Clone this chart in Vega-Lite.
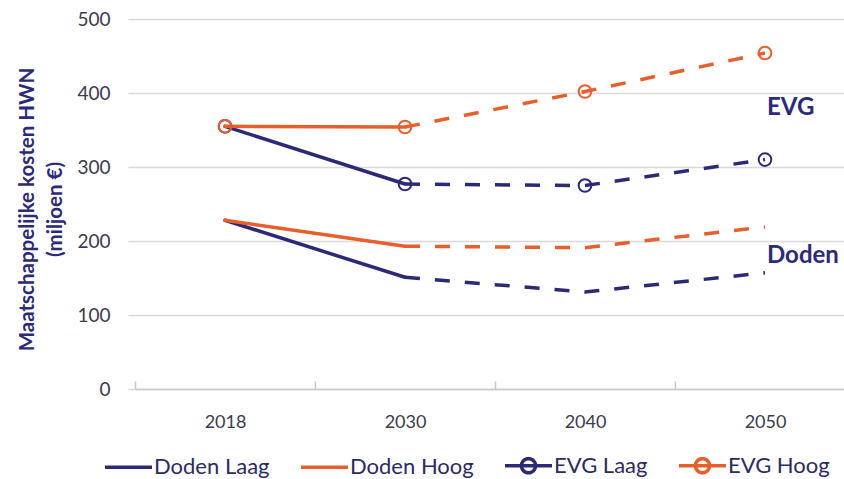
{
  "$schema": "https://vega.github.io/schema/vega-lite/v6.json",
  "width": 709,
  "height": 370,
  "autosize": {"type": "none"},
  "padding": {"left": 135, "top": 19, "right": 0, "bottom": 90},
  "background": "white",
  "config": {"font": "Lato", "view": {"stroke": null}},
  "data": {
    "values": [
      {"series": "Doden Laag", "year": "2018", "value": 228},
      {"series": "Doden Laag", "year": "2030", "value": 151},
      {"series": "Doden Laag", "year": "2040", "value": 131},
      {"series": "Doden Laag", "year": "2050", "value": 157},
      {"series": "Doden Hoog", "year": "2018", "value": 228},
      {"series": "Doden Hoog", "year": "2030", "value": 193},
      {"series": "Doden Hoog", "year": "2040", "value": 191},
      {"series": "Doden Hoog", "year": "2050", "value": 219},
      {"series": "EVG Laag", "year": "2018", "value": 355},
      {"series": "EVG Laag", "year": "2030", "value": 277},
      {"series": "EVG Laag", "year": "2040", "value": 275},
      {"series": "EVG Laag", "year": "2050", "value": 310},
      {"series": "EVG Hoog", "year": "2018", "value": 355},
      {"series": "EVG Hoog", "year": "2030", "value": 354},
      {"series": "EVG Hoog", "year": "2040", "value": 402},
      {"series": "EVG Hoog", "year": "2050", "value": 454}
    ]
  },
  "encoding": {
    "x": {
      "field": "year",
      "type": "ordinal",
      "bandPosition": 0.5,
      "scale": {"type": "band", "paddingInner": 0, "paddingOuter": 0, "range": [0, 720]},
      "axis": {
        "title": null,
        "labelAngle": 0,
        "labelFontSize": 18,
        "labelColor": "#3b3b4f",
        "labelPadding": 32,
        "tickBand": "extent",
        "tickSize": -8,
        "tickColor": "#c8c8c8",
        "tickWidth": 1.5,
        "domainColor": "#c8c8c8",
        "domainWidth": 1.5,
        "grid": false
      }
    },
    "y": {
      "field": "value",
      "type": "quantitative",
      "scale": {"domain": [0, 500], "nice": false},
      "axis": {
        "title": ["Maatschappelijke kosten HWN", "(miljoen €)"],
        "titleFontSize": 20.5,
        "titleFontWeight": "bold",
        "titleColor": "#2c2a76",
        "titleLineHeight": 28,
        "titleX": -98,
        "titleY": 190,
        "titleAngle": -90,
        "values": [0, 100, 200, 300, 400, 500],
        "labelFontSize": 19,
        "labelColor": "#3b3b4f",
        "labelPadding": 18,
        "domain": false,
        "ticks": true,
        "tickSize": 7,
        "tickColor": "#d9d9d9",
        "tickWidth": 1.5,
        "gridColor": "#d9d9d9",
        "gridWidth": 1.5
      }
    },
    "color": {
      "field": "series",
      "type": "nominal",
      "scale": {
        "domain": ["Doden Laag", "Doden Hoog", "EVG Laag", "EVG Hoog"],
        "range": ["#2c2a76", "#e5602d", "#2c2a76", "#e5602d"]
      },
      "legend": {
        "orient": "none",
        "legendX": -32,
        "legendY": 421,
        "direction": "horizontal",
        "columns": 4,
        "title": null,
        "labelFontSize": 22,
        "labelColor": "#2d2b5e",
        "labelOffset": 0,
        "columnPadding": 24,
        "symbolSize": 2209,
        "symbolStrokeWidth": 3.5,
        "symbolDash": [1, 0],
        "encode": {
          "symbols": {
            "update": {
              "shape": {"signal": "indexof(datum.value, 'EVG') == 0 ? 'M-1,0H1M-0.3,0A0.3,0.3 0 1,1 0.3,0A0.3,0.3 0 1,1 -0.3,0' : 'M-1,0H1'"},
              "fill": {"value": "transparent"},
              "strokeWidth": {"value": 3.5}
            }
          }
        }
      }
    }
  },
  "layer": [
    {
      "transform": [{"filter": "toNumber(datum.year) <= 2030"}],
      "mark": {"type": "line", "strokeWidth": 3.5, "strokeCap": "round"}
    },
    {
      "transform": [{"filter": "toNumber(datum.year) >= 2030"}],
      "mark": {"type": "line", "strokeWidth": 3.5, "strokeDash": [15, 15]}
    },
    {
      "transform": [{"filter": "indexof(datum.series, 'EVG') == 0"}],
      "mark": {"type": "point", "filled": false, "size": 160, "strokeWidth": 2, "shape": "circle", "opacity": 1}
    },
    {
      "data": {
        "values": [
          {"label": "EVG", "year": "2050", "value": 380},
          {"label": "Doden", "year": "2050", "value": 180}
        ]
      },
      "mark": {"type": "text", "align": "left", "dx": 2, "baseline": "middle", "fontSize": 24, "fontWeight": "bold", "color": "#2c2a76"},
      "encoding": {
        "text": {"field": "label"},
        "color": null
      }
    }
  ]
}
